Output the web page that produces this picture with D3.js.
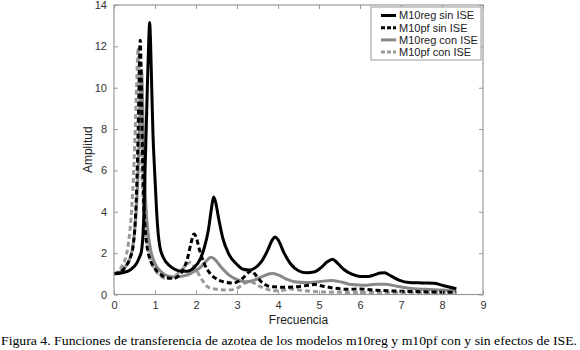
<!DOCTYPE html>
<html>
<head>
<meta charset="utf-8">
<script src="https://cdn.jsdelivr.net/npm/d3@7"></script>
<style>
  body { margin: 0; background: #fff; }
  svg { display: block; }
</style>
</head>
<body>
<div id="chart"></div>
<script>
// datos (frecuencia, amplitud)
const regSinX = [0, 0.2, 0.4, 0.55, 0.62, 0.67, 0.71, 0.74, 0.76, 0.79, 0.82, 0.85, 0.87, 0.89, 0.92, 0.95, 0.99, 1.04, 1.08, 1.12, 1.2, 1.35, 1.5, 1.65, 1.8, 1.95, 2.1, 2.2, 2.3, 2.38, 2.43, 2.48, 2.55, 2.65, 2.8, 3.0, 3.15, 3.3, 3.45, 3.6, 3.75, 3.85, 3.93, 4.0, 4.15, 4.3, 4.5, 4.7, 4.9, 5.05, 5.2, 5.33, 5.45, 5.6, 5.8, 6.0, 6.2, 6.35, 6.5, 6.6, 6.75, 6.95, 7.2, 7.5, 7.8, 8.0, 8.2, 8.35];
const regSinY = [1.0, 1.05, 1.2, 1.5, 1.8, 2.1, 3.0, 4.6, 6.2, 8.3, 10.5, 12.4, 13.15, 12.3, 10.0, 7.8, 6.0, 4.0, 2.9, 2.3, 1.8, 1.4, 1.2, 1.12, 1.13, 1.3, 1.7, 2.25, 3.1, 4.2, 4.72, 4.45, 3.7, 2.75, 1.95, 1.45, 1.22, 1.18, 1.3, 1.6, 2.15, 2.6, 2.78, 2.65, 2.0, 1.5, 1.15, 1.05, 1.1, 1.3, 1.58, 1.71, 1.52, 1.22, 0.98, 0.87, 0.87, 0.95, 1.04, 1.05, 0.9, 0.7, 0.58, 0.56, 0.55, 0.45, 0.35, 0.28];

const pfSinX = [0, 0.2, 0.3, 0.4, 0.47, 0.52, 0.56, 0.59, 0.615, 0.64, 0.66, 0.68, 0.71, 0.75, 0.8, 0.9, 1.0, 1.15, 1.3, 1.45, 1.6, 1.7, 1.8, 1.88, 1.95, 2.0, 2.08, 2.2, 2.35, 2.5, 2.7, 2.9, 3.05, 3.2, 3.3, 3.36, 3.45, 3.6, 3.75, 3.9, 4.2, 4.5, 4.75, 4.9, 5.1, 5.4, 5.7, 6.0, 6.3, 6.7, 7.2, 7.8, 8.35];
const pfSinY = [1.0, 1.15, 1.4, 1.8, 2.4, 3.6, 5.6, 8.0, 10.5, 12.3, 11.0, 8.5, 5.5, 3.5, 2.4, 1.6, 1.25, 0.95, 0.8, 0.78, 0.95, 1.25, 1.8, 2.5, 2.92, 2.8, 2.2, 1.5, 1.0, 0.75, 0.6, 0.55, 0.65, 0.9, 1.1, 1.15, 0.95, 0.6, 0.42, 0.37, 0.35, 0.38, 0.45, 0.48, 0.4, 0.3, 0.25, 0.27, 0.22, 0.18, 0.15, 0.12, 0.1];

const regConX = [0, 0.15, 0.3, 0.4, 0.45, 0.5, 0.55, 0.59, 0.62, 0.65, 0.67, 0.69, 0.71, 0.74, 0.78, 0.83, 0.9, 1.0, 1.15, 1.3, 1.5, 1.7, 1.9, 2.1, 2.25, 2.36, 2.45, 2.6, 2.8, 3.0, 3.2, 3.4, 3.6, 3.8, 3.87, 4.0, 4.2, 4.4, 4.7, 5.0, 5.3, 5.55, 5.8, 6.1, 6.4, 6.6, 6.9, 7.2, 7.6, 8.0, 8.35];
const regConY = [1.0, 1.1, 1.4, 1.8, 2.2, 3.0, 4.3, 6.0, 8.0, 10.0, 10.85, 10.0, 8.2, 6.0, 4.2, 3.0, 2.1, 1.5, 1.1, 0.9, 0.85, 0.9, 1.05, 1.3, 1.62, 1.8, 1.72, 1.35, 0.95, 0.72, 0.62, 0.68, 0.85, 1.0, 1.02, 0.95, 0.75, 0.62, 0.58, 0.62, 0.68, 0.6, 0.48, 0.45, 0.5, 0.5, 0.4, 0.3, 0.25, 0.22, 0.18];

const pfConX = [0, 0.1, 0.2, 0.3, 0.36, 0.42, 0.47, 0.51, 0.55, 0.59, 0.62, 0.65, 0.68, 0.72, 0.77, 0.85, 0.95, 1.1, 1.25, 1.4, 1.55, 1.7, 1.85, 2.0, 2.15, 2.3, 2.5, 2.8, 3.0, 3.2, 3.35, 3.5, 3.7, 3.9, 4.1, 4.3, 4.5, 4.8, 5.2, 5.8, 6.5, 7.5, 8.35];
const pfConY = [1.0, 1.1, 1.4, 1.9, 2.6, 3.8, 5.5, 7.5, 10.0, 11.95, 10.5, 8.0, 6.0, 4.2, 3.0, 2.0, 1.4, 0.95, 0.78, 0.8, 1.0, 1.3, 1.55, 1.2, 0.7, 0.35, 0.25, 0.22, 0.3, 0.55, 0.6, 0.45, 0.28, 0.18, 0.2, 0.27, 0.22, 0.15, 0.12, 0.1, 0.1, 0.08, 0.08];

const seriesNames = ['M10reg sin ISE', 'M10pf sin ISE', 'M10reg con ISE', 'M10pf con ISE'];
const xTicks = [0, 1, 2, 3, 4, 5, 6, 7, 8, 9];
const yTicks = [0, 2, 4, 6, 8, 10, 12, 14];

const series = [
  { name: seriesNames[0], x: regSinX, y: regSinY, color: '#000', dash: null },
  { name: seriesNames[1], x: pfSinX, y: pfSinY, color: '#000', dash: '5,3' },
  { name: seriesNames[2], x: regConX, y: regConY, color: '#888', dash: null },
  { name: seriesNames[3], x: pfConX, y: pfConY, color: '#9a9a9a', dash: '5,3' }
];

const W = 580, H = 350;
const plot = { left: 114, right: 483, top: 5, bottom: 294.5 };

const svg = d3.select('#chart').append('svg')
  .attr('width', W)
  .attr('height', H)
  .style('font-family', 'Liberation Sans, Arial, sans-serif');

const x = d3.scaleLinear().domain([0, 9]).range([plot.left, plot.right]);
const y = d3.scaleLinear().domain([0, 14]).range([plot.bottom, plot.top]);

// curvas
const line = d3.line()
  .x(d => x(d[0]))
  .y(d => y(d[1]))
  .curve(d3.curveMonotoneX);

// dibujar de atras hacia adelante: grises primero
[3, 2, 1, 0].forEach(i => {
  const s = series[i];
  svg.append('path')
    .datum(s.x.map((v, j) => [v, s.y[j]]))
    .attr('d', line)
    .attr('fill', 'none')
    .attr('stroke', s.color)
    .attr('stroke-width', 3)
    .attr('stroke-dasharray', s.dash)
    .attr('stroke-linejoin', 'round');
});

// ejes tipo matlab (caja con ticks hacia dentro)
const axisColor = '#999';
const tickLen = 4;

function styleAxis(g) {
  g.select('.domain').remove();
  g.selectAll('.tick line').attr('stroke', axisColor);
  g.selectAll('.tick text').attr('fill', '#333').style('font-size', '11px');
}

svg.append('g')
  .attr('transform', `translate(0,${plot.bottom})`)
  .call(d3.axisBottom(x).tickValues(xTicks).tickSizeInner(-tickLen).tickPadding(7))
  .call(styleAxis);

svg.append('g')
  .attr('transform', `translate(0,${plot.top})`)
  .call(d3.axisTop(x).tickValues(xTicks).tickSizeInner(-tickLen).tickFormat(''))
  .call(styleAxis);

svg.append('g')
  .attr('transform', `translate(${plot.left},0)`)
  .call(d3.axisLeft(y).tickValues(yTicks).tickSizeInner(-tickLen).tickPadding(7))
  .call(styleAxis);

svg.append('g')
  .attr('transform', `translate(${plot.right},0)`)
  .call(d3.axisRight(y).tickValues(yTicks).tickSizeInner(-tickLen).tickFormat(''))
  .call(styleAxis);

svg.append('rect')
  .attr('x', plot.left)
  .attr('y', plot.top)
  .attr('width', plot.right - plot.left)
  .attr('height', plot.bottom - plot.top)
  .attr('fill', 'none')
  .attr('stroke', axisColor)
  .attr('stroke-width', 1.2);

// titulos de ejes
svg.append('text')
  .attr('x', (plot.left + plot.right) / 2)
  .attr('y', 324)
  .attr('text-anchor', 'middle')
  .attr('fill', '#222')
  .style('font-size', '12px')
  .text('Frecuencia');

svg.append('text')
  .attr('transform', `translate(92,${(plot.top + plot.bottom) / 2}) rotate(-90)`)
  .attr('text-anchor', 'middle')
  .attr('fill', '#222')
  .style('font-size', '12px')
  .text('Amplitud');

// leyenda
const legend = svg.append('g').attr('transform', 'translate(371,7)');
legend.append('rect')
  .attr('width', 110)
  .attr('height', 53)
  .attr('fill', '#fff')
  .attr('stroke', axisColor);

series.forEach((s, i) => {
  const row = legend.append('g').attr('transform', `translate(0,${8.5 + i * 12.2})`);
  row.append('line')
    .attr('x1', 10).attr('x2', 25)
    .attr('stroke', s.color)
    .attr('stroke-width', 3)
    .attr('stroke-dasharray', s.dash ? '4,2' : null);
  row.append('text')
    .attr('x', 28)
    .attr('dy', '0.35em')
    .attr('fill', '#222')
    .style('font-size', '11px')
    .text(s.name);
});

// pie de figura
svg.append('text')
  .attr('x', 1)
  .attr('y', 345)
  .attr('fill', '#000')
  .attr('textLength', 576)
  .attr('lengthAdjust', 'spacingAndGlyphs')
  .style('font-family', 'Liberation Serif, Times New Roman, serif')
  .style('font-size', '13.5px')
  .text('Figura 4. Funciones de transferencia de azotea de los modelos m10reg y m10pf con y sin efectos de ISE.');
</script>
</body>
</html>
